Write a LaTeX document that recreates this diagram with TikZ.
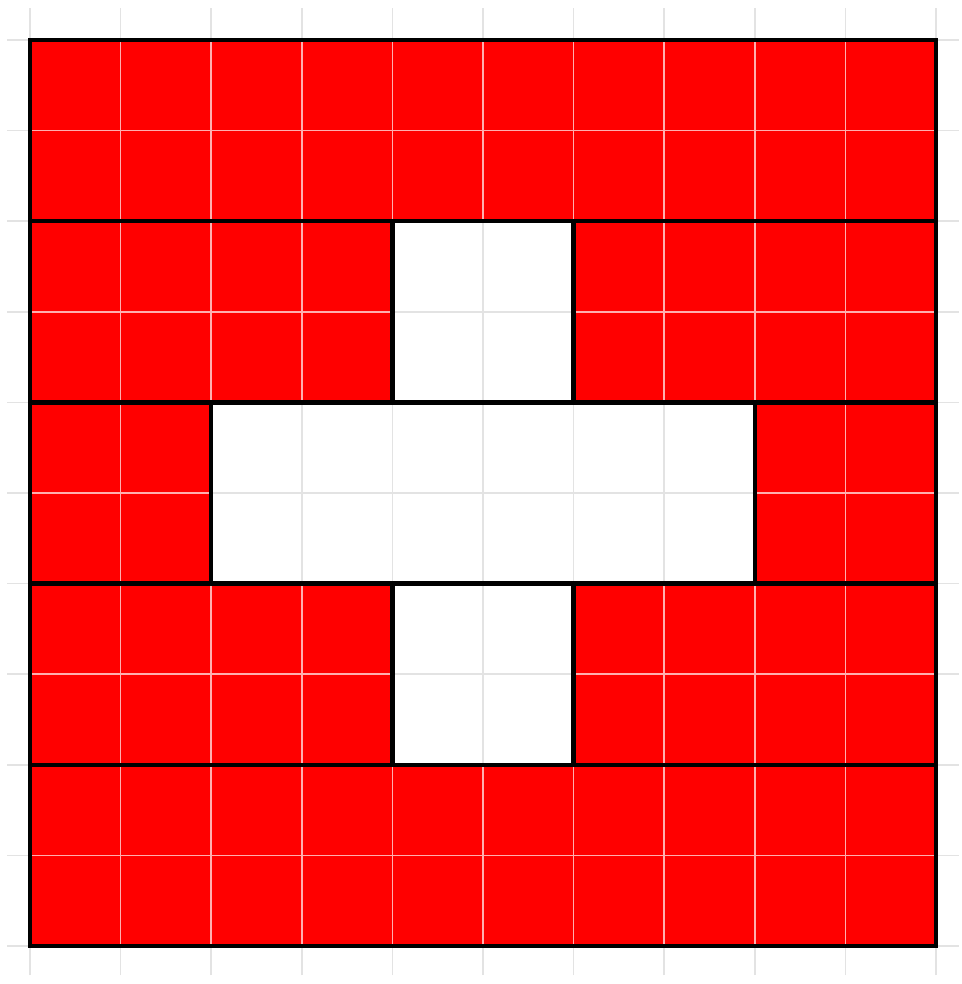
\documentclass[tikz,border=0pt]{standalone}
\begin{document}
\begin{tikzpicture}[x=1cm,y=1cm,
  redfill/.style={fill={rgb,255:red,255;green,0;blue,0}},
  thin grid/.style={draw=black!11,line width=0.5pt},
  red grid/.style={draw={rgb,255:red,255;green,175;blue,175},line width=0.5pt},
  band/.style={draw=black,line width=1.4pt}]
\useasboundingbox (-0.331,-0.419) rectangle (10.276,10.441);
\fill[white] (-0.331,-0.419) rectangle (10.276,10.441);
% background light grid
\foreach \i in {0,...,10} {
  \draw[thin grid] (\i,-0.32) -- (\i,10.35);
  \draw[thin grid] (-0.25,\i) -- (10.25,\i);
}
% red regions
\fill[redfill] (0,8) rectangle (10,10);
\fill[redfill] (0,0) rectangle (10,2);
\fill[redfill] (0,6) rectangle (4,8);
\fill[redfill] (6,6) rectangle (10,8);
\fill[redfill] (0,2) rectangle (4,4);
\fill[redfill] (6,2) rectangle (10,4);
\fill[redfill] (0,4) rectangle (2,6);
\fill[redfill] (8,4) rectangle (10,6);
% pale grid lines over red
\begin{scope}
\clip (0,0) rectangle (10,2) (0,8) rectangle (10,10)
      (0,6) rectangle (4,8) (6,6) rectangle (10,8)
      (0,2) rectangle (4,4) (6,2) rectangle (10,4)
      (0,4) rectangle (2,6) (8,4) rectangle (10,6);
\foreach \i in {1,...,9} {
  \draw[red grid] (\i,0) -- (\i,10);
  \draw[red grid] (0,\i) -- (10,\i);
}
\end{scope}
% black outlines
\draw[band] (0,0) rectangle (10,10);
\foreach \y in {2,4,6,8} \draw[band] (0,\y) -- (10,\y);
\draw[band] (4,6) -- (4,8) (6,6) -- (6,8);
\draw[band] (4,2) -- (4,4) (6,2) -- (6,4);
\draw[band] (2,4) -- (2,6) (8,4) -- (8,6);
\end{tikzpicture}
\end{document}
